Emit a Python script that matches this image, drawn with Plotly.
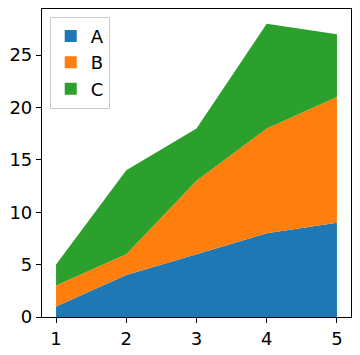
import plotly.graph_objects as go

x = [1, 2, 3, 4, 5]
series_names = ["A", "B", "C"]
a_vals = [1, 4, 6, 8, 9]
b_vals = [2, 2, 7, 10, 12]
c_vals = [2, 8, 5, 10, 6]
colors = ["#1f77b4", "#ff7f0e", "#2ca02c"]

fig = go.Figure()
for name, vals, col in zip(series_names, [a_vals, b_vals, c_vals], colors):
    fig.add_trace(go.Scatter(
        x=x, y=vals, name=name, stackgroup="one", mode="none",
        fillcolor=col, line=dict(width=0), hoverinfo="skip", showlegend=False,
    ))
# legend swatches (rectangles, like the reference legend)
for name, col in zip(series_names, colors):
    fig.add_trace(go.Bar(
        x=[None], y=[None], name=name, marker=dict(color=col, line=dict(width=0)),
        showlegend=True, hoverinfo="skip",
    ))

# page body has an 8px margin, so the figure is 352x347 to fill the 360x355 window
fig.update_layout(
    width=352, height=347,
    margin=dict(l=34, r=9, t=1, b=38, autoexpand=False),
    paper_bgcolor="white", plot_bgcolor="white",
    font=dict(family="DejaVu Sans", size=18, color="black"),
    showlegend=True,
    legend=dict(
        x=0.025, y=0.975, xanchor="left", yanchor="top",
        traceorder="normal",
        bgcolor="rgba(255,255,255,0.8)", bordercolor="#cccccc", borderwidth=1,
        font=dict(size=18), tracegroupgap=3,
    ),
)
fig.update_xaxes(
    range=[0.8, 5.2], tickvals=[1, 2, 3, 4, 5], ticks="outside", ticklen=5,
    tickcolor="black", showline=True, linecolor="black", linewidth=1.2,
    mirror=True, showgrid=False, zeroline=False, automargin=False,
)
fig.update_yaxes(
    range=[0, 29.4], tickvals=[0, 5, 10, 15, 20, 25], ticks="outside", ticklen=5,
    tickcolor="black", showline=True, linecolor="black", linewidth=1.2,
    mirror=True, showgrid=False, zeroline=False, automargin=False,
)

fig.write_html("out.html")
